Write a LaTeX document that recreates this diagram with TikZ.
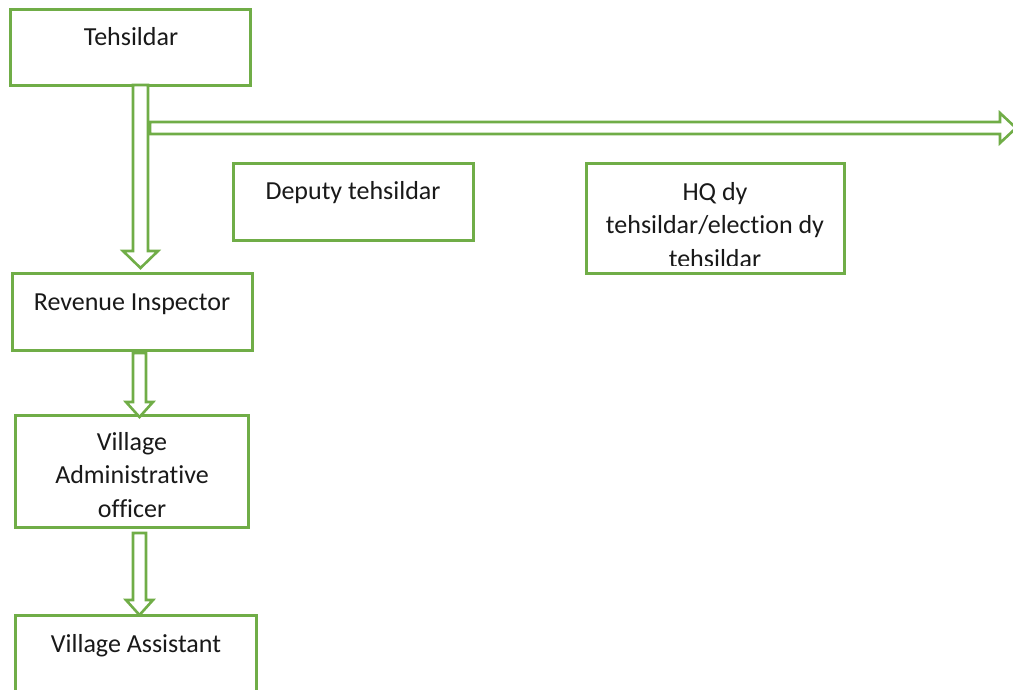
\documentclass[tikz,border=0pt]{standalone}
\usepackage{fontspec}
\setmainfont{Carlito}[Ligatures=NoCommon]
\definecolor{boxgreen}{RGB}{112,173,71}
\definecolor{txt}{RGB}{25,25,25}
\begin{document}
\begin{tikzpicture}[x=1pt,y=-1pt,
  box/.style={draw=boxgreen,line width=3pt,fill=white,inner sep=0pt,outer sep=0pt},
  lbl/.style={text=txt,font=\fontsize{26}{33.5}\selectfont,anchor=base,align=center,inner sep=0pt},
  hollow/.style={draw=boxgreen,line width=2.6pt,fill=white,line join=miter}]
\useasboundingbox (0,0) rectangle (1013,689);
\clip (0,0) rectangle (1013,689);
% boxes
\node[box,minimum width=240pt,minimum height=76pt] (teh) at (130,47) {};
\node[box,minimum width=240pt,minimum height=77pt] (dep) at (353,201.5) {};
\node[box,minimum width=258pt,minimum height=110pt] (hq) at (715,218) {};
\node[box,minimum width=240pt,minimum height=77pt] (rev) at (132,311.5) {};
\node[box,minimum width=233pt,minimum height=112pt] (vao) at (131.5,471) {};
\node[box,minimum width=241pt,minimum height=77pt] (va) at (135.5,653.5) {};
% labels (base anchor = last line's baseline)
\node[lbl] (tehT) at (131,45) {Tehsildar};
\node[lbl] (depT) at (353,199) {Deputy tehsildar};
\begin{scope}
\clip (587,164) rectangle (843,265);
\node[lbl] (hqT) at (715,267) {HQ dy\\tehsildar/election dy\\tehsildar};
\end{scope}
\node[lbl] (revT) at (132,310) {Revenue Inspector};
\node[lbl] (vaoT) at (132,517) {Village\\Administrative\\officer};
\node[lbl] (vaT) at (136,652) {Village Assistant};
% hollow arrows
\draw[hollow] (150,122) -- (1000,122) -- (1000,113) -- (1016,128) -- (1000,143) -- (1000,134) -- (150,134) -- cycle;
\draw[hollow] (133,85) -- (148,85) -- (148,251) -- (158,251) -- (140.5,268) -- (123,251) -- (133,251) -- cycle;
\draw[hollow] (133,353) -- (146,353) -- (146,402) -- (153,402) -- (139.5,417) -- (126,402) -- (133,402) -- cycle;
\draw[hollow] (133,533) -- (146,533) -- (146,600) -- (153,600) -- (139.5,615) -- (126,600) -- (133,600) -- cycle;
\end{tikzpicture}
\end{document}
